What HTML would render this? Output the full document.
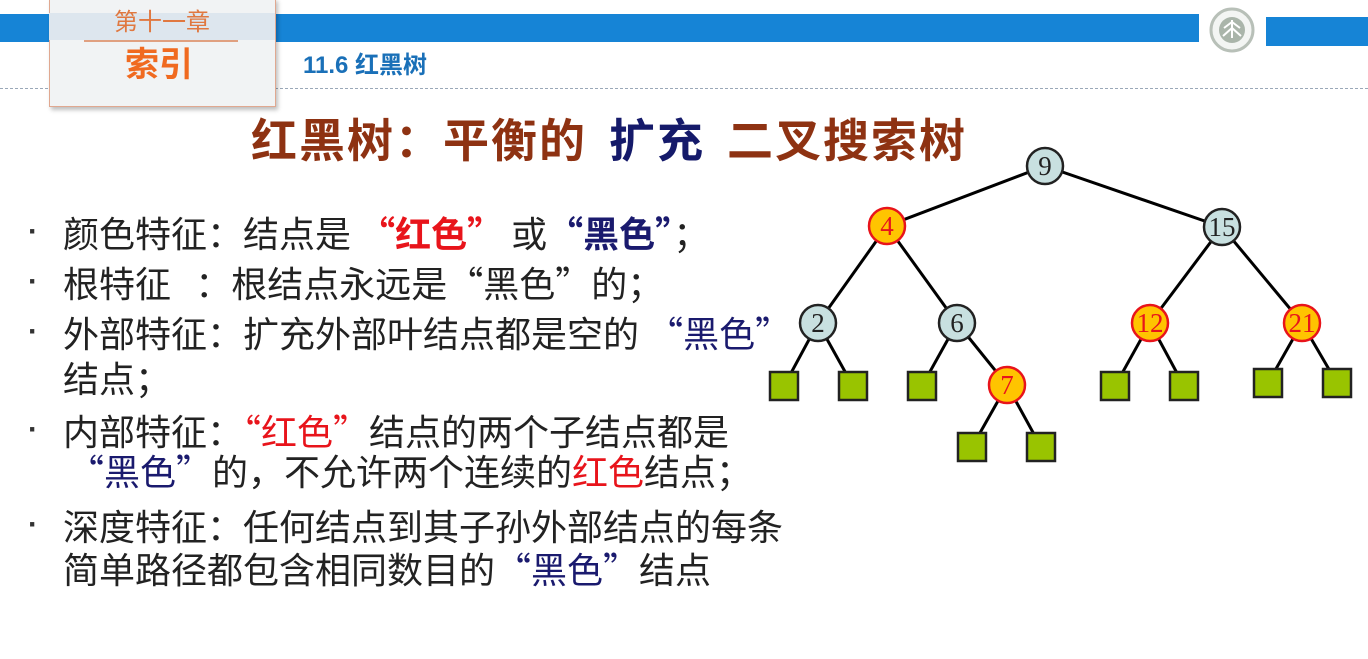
<!DOCTYPE html>
<html><head><meta charset="utf-8"><style>
body{margin:0;width:1368px;height:659px;background:#fff;position:relative;overflow:hidden;font-family:"Liberation Sans","Noto Sans CJK SC",sans-serif;}
.a{position:absolute;white-space:nowrap;}
.l{position:absolute;left:63px;font-size:36px;line-height:40px;color:#222;white-space:nowrap;font-family:"Noto Sans CJK SC",sans-serif;}
.d{position:absolute;left:28px;font-size:30px;line-height:40px;color:#333;font-weight:bold;}
.r{color:#e8141b}.b{color:#1a1a6e}
</style></head><body>
<div class="a" style="left:0;top:14px;width:1199px;height:28px;background:#1684d6"></div>
<div class="a" style="left:1266px;top:17px;width:102px;height:29px;background:#1684d6"></div>
<svg class="a" style="left:1208px;top:6px" width="48" height="48"><circle cx="24" cy="24" r="21" fill="#f3f5f3" stroke="#b8c0b8" stroke-width="3"/><circle cx="24" cy="24" r="13" fill="#aab5aa"/><path d="M24 14v18M16 22l8-6 8 6M15 30l9-8 9 8" stroke="#fff" stroke-width="2" fill="none"/></svg>
<div class="a" style="left:0;top:88px;width:1368px;border-top:1px dashed #9aa8b8"></div>
<div class="a" style="left:49px;top:-2px;width:225px;height:107px;background:#f1f3f4;border:1px solid #e0a890;box-shadow:2px 3px 4px rgba(0,0,0,.25)"></div>
<div class="a" style="left:49px;top:13px;width:226px;height:27px;background:#dde6ee"></div>
<div class="a" style="left:84px;top:40px;width:154px;border-top:2px solid #e0a080"></div>
<div class="a" style="left:114px;top:9px;font-size:24px;color:#e07840;line-height:28px">第十一章</div>
<div class="a" style="left:125px;top:45px;font-size:34px;font-weight:bold;color:#f06a20;line-height:40px">索引</div>
<div class="a" style="left:303px;top:51px;font-size:24px;font-weight:bold;color:#1a70b8;line-height:30px">11.6 红黑树</div>
<div class="a" style="left:251px;top:110px;font-size:46px;font-weight:bold;color:#8e3212;line-height:56px;letter-spacing:2px;font-family:'Noto Sans CJK SC',sans-serif">红黑树：平衡的<span style="display:inline-block;width:22px"></span><span style="color:#151a6a">扩充</span><span style="display:inline-block;width:22px"></span>二叉搜索树</div>

<div class="d" style="top:212px">·</div><div class="l" style="top:212px">颜色特征：结点是 <b class="r">“红色”</b> 或<b class="b">“黑色”</b>；</div>
<div class="d" style="top:262px">·</div><div class="l" style="top:262px">根特征&nbsp;&nbsp;&nbsp;：根结点永远是“黑色”的；</div>
<div class="d" style="top:312px">·</div><div class="l" style="top:312px">外部特征：扩充外部叶结点都是空的 <span class="b">“黑色”</span></div>
<div class="l" style="top:357px">结点；</div>
<div class="d" style="top:410px">·</div><div class="l" style="top:410px">内部特征：<span class="r">“红色”</span>结点的两个子结点都是</div>
<div class="l" style="top:450px;left:68px"><span class="b">“黑色”</span>的，不允许两个连续的<span class="r">红色</span>结点；</div>
<div class="d" style="top:505px">·</div><div class="l" style="top:505px">深度特征：任何结点到其子孙外部结点的每条</div>
<div class="l" style="top:548px">简单路径都包含相同数目的<span class="b">“黑色”</span>结点</div>

<svg class="a" style="left:0;top:0" width="1368" height="659" font-family="Liberation Serif,serif" font-size="27" text-anchor="middle">
<g stroke="#000" stroke-width="3">
<line x1="1045" y1="166" x2="887" y2="226"/><line x1="1045" y1="166" x2="1222" y2="227"/>
<line x1="887" y1="226" x2="818" y2="323"/><line x1="887" y1="226" x2="957" y2="323"/>
<line x1="1222" y1="227" x2="1150" y2="323"/><line x1="1222" y1="227" x2="1302" y2="323"/>
<line x1="818" y1="323" x2="784" y2="386"/><line x1="818" y1="323" x2="853" y2="386"/>
<line x1="957" y1="323" x2="922" y2="386"/><line x1="957" y1="323" x2="1007" y2="385"/>
<line x1="1007" y1="385" x2="972" y2="447"/><line x1="1007" y1="385" x2="1041" y2="447"/>
<line x1="1150" y1="323" x2="1115" y2="386"/><line x1="1150" y1="323" x2="1184" y2="386"/>
<line x1="1302" y1="323" x2="1268" y2="383"/><line x1="1302" y1="323" x2="1337" y2="383"/>
</g>
<g fill="#99c400" stroke="#222" stroke-width="2.5">
<rect x="770" y="372" width="28" height="28"/><rect x="839" y="372" width="28" height="28"/><rect x="908" y="372" width="28" height="28"/>
<rect x="958" y="433" width="28" height="28"/><rect x="1027" y="433" width="28" height="28"/>
<rect x="1101" y="372" width="28" height="28"/><rect x="1170" y="372" width="28" height="28"/>
<rect x="1254" y="369" width="28" height="28"/><rect x="1323" y="369" width="28" height="28"/>
</g>
<g fill="#c8e0e0" stroke="#222" stroke-width="2.5">
<circle cx="1045" cy="166" r="18"/><circle cx="1222" cy="227" r="18"/><circle cx="818" cy="323" r="18"/><circle cx="957" cy="323" r="18"/>
</g>
<g fill="#ffc400" stroke="#e8141b" stroke-width="2.5">
<circle cx="887" cy="226" r="18"/><circle cx="1007" cy="385" r="18"/><circle cx="1150" cy="323" r="18"/><circle cx="1302" cy="323" r="18"/>
</g>
<g fill="#222"><text x="1045" y="175">9</text><text x="1222" y="236">15</text><text x="818" y="332">2</text><text x="957" y="332">6</text></g>
<g fill="#e8141b"><text x="887" y="235">4</text><text x="1007" y="394">7</text><text x="1150" y="332">12</text><text x="1302" y="332">21</text></g>
</svg>
</body></html>
